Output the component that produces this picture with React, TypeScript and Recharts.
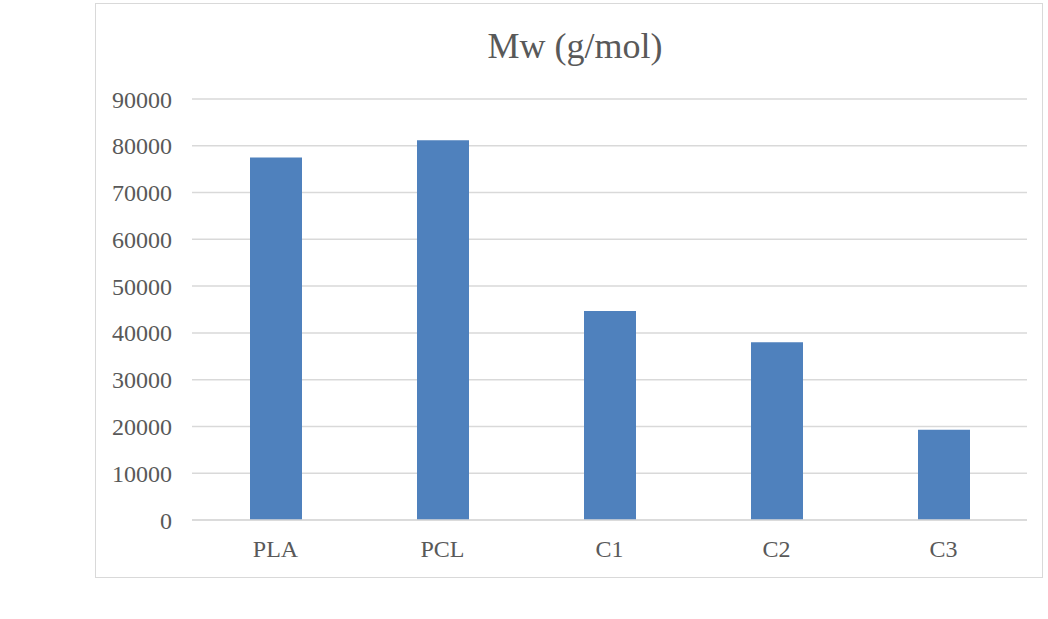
import React from "react";
import { BarChart, Bar, XAxis, YAxis, CartesianGrid } from "recharts";

// Weight-average molecular weight per sample
const categories = ["PLA", "PCL", "C1", "C2", "C3"];
const mwValues = [77500, 81200, 44700, 38000, 19300];
const yTicks = [0, 10000, 20000, 30000, 40000, 50000, 60000, 70000, 80000, 90000];

const data = categories.map((name, i) => ({ name, mw: mwValues[i] }));

const FONT = '"Liberation Serif", "Times New Roman", serif';
const TEXT = "#595959";

export default function App() {
  return (
    <div style={{ position: "absolute", left: 0, top: 0, width: 1048, height: 619, background: "#fff" }}>
      <div
        style={{
          position: "absolute",
          left: 95,
          top: 3,
          width: 946,
          height: 573,
          border: "1.5px solid #d9d9d9",
        }}
      />
      <div
        style={{
          position: "absolute",
          left: 0,
          width: 1150,
          top: 26,
          textAlign: "center",
          fontFamily: FONT,
          fontSize: 36,
          color: TEXT,
          lineHeight: "40px",
        }}
      >
        Mw (g/mol)
      </div>
      <div style={{ position: "absolute", left: 0, top: 0 }}>
        <BarChart
          width={1048}
          height={619}
          data={data}
          margin={{ top: 99, right: 21, bottom: 59, left: 100 }}
          barSize={52}
        >
          <CartesianGrid vertical={false} stroke="#d9d9d9" strokeWidth={1.5} />
          <XAxis
            dataKey="name"
            axisLine={{ stroke: "#d9d9d9", strokeWidth: 1.5 }}
            tickLine={false}
            tickSize={0}
            tickMargin={20}
            height={40}
            tick={{ fontFamily: FONT, fontSize: 24, fill: TEXT }}
          />
          <YAxis
            domain={[0, 90000]}
            ticks={yTicks}
            axisLine={false}
            tickLine={false}
            tickSize={0}
            tickMargin={20}
            width={92}
            tick={{ fontFamily: FONT, fontSize: 24, fill: TEXT }}
          />
          <Bar dataKey="mw" fill="#4f81bd" isAnimationActive={false} />
        </BarChart>
      </div>
    </div>
  );
}
